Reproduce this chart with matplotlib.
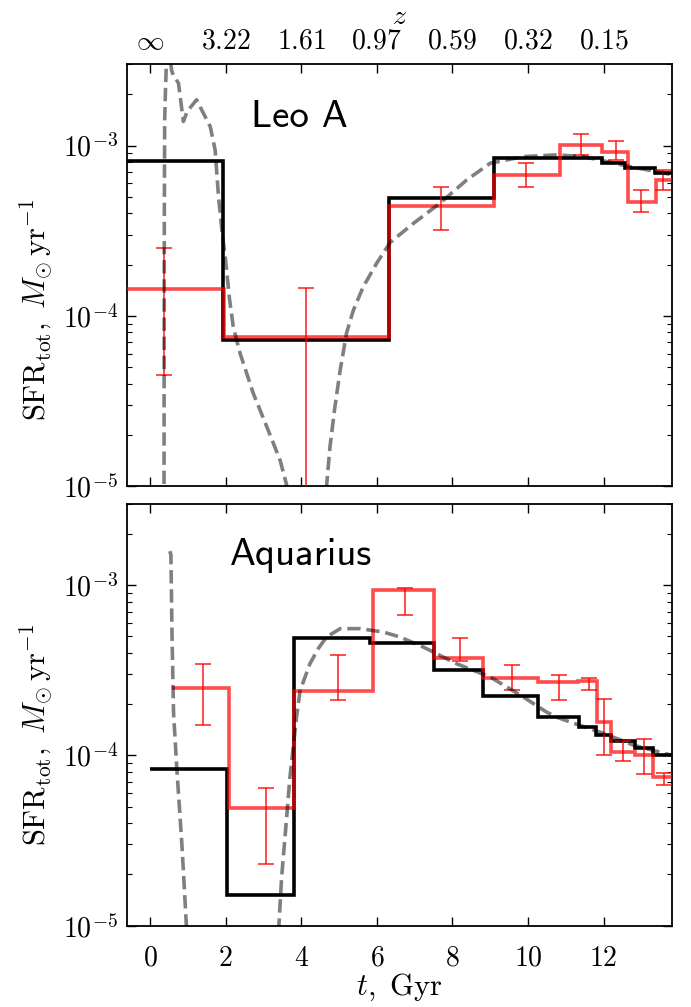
import numpy as np
import matplotlib
matplotlib.use('Agg')
import matplotlib.pyplot as plt
from matplotlib.ticker import FixedLocator, FuncFormatter, LogLocator, NullFormatter

plt.rcParams['mathtext.fontset'] = 'cm'
plt.rcParams['font.family'] = ['DejaVu Sans']

# ---------------- data ----------------
t_ticks = [0, 2, 4, 6, 8, 10, 12]
t_ticklabels = ['0', '2', '4', '6', '8', '10', '12']
z_ticklabels = [r'\infty', '3.22', '1.61', '0.97', '0.59', '0.32', '0.15']

# Leo A
leo_model_edges = [-1.2, 1.94, 6.33, 9.10, 11.97, 12.58, 13.36, 13.9]
leo_model_sfr = [8.13e-4, 7.19e-5, 4.91e-4, 8.47e-4, 7.94e-4, 7.36e-4, 6.88e-4]
leo_obs_edges = [-1.2, 1.96, 6.33, 9.10, 10.85, 11.97, 12.65, 13.40, 13.9]
leo_obs_sfr = [1.44e-4, 7.46e-5, 4.41e-4, 6.72e-4, 1.01e-3, 9.18e-4, 4.64e-4, 6.28e-4]
leo_err_t = [0.37, 4.13, 7.70, 9.96, 11.40, 12.32, 13.00, 13.58]
leo_err_hi = [2.49e-4, 1.45e-4, 5.71e-4, 7.87e-4, 1.17e-3, 1.07e-3, 5.49e-4, 7.20e-4]
leo_err_lo = [4.47e-5, 1e-7, 3.19e-4, 5.74e-4, 8.81e-4, 8.24e-4, 4.06e-4, 5.49e-4]
leo_curve_t = [0.365, 0.37, 0.375, 0.385, 0.41, 0.44, 0.48, 0.57, 0.62, 0.75, 0.88, 0.98,
               1.23, 1.32, 1.59, 1.72, 1.81, 1.90, 2.00, 2.10, 2.20, 2.38, 2.73, 3.09, 3.44,
               3.62, 3.80, 4.20, 4.62, 4.67, 4.76, 4.89, 5.03, 5.20, 5.38, 5.64, 6.00, 6.35,
               6.97, 7.67, 8.38, 9.00, 9.88, 10.76, 11.46, 12.08, 12.70, 13.40, 13.82]
leo_curve_log = [-6.0, -4.5, -3.5, -2.85, -2.65, -2.45, -2.40, -2.56, -2.59, -2.633, -2.859,
                 -2.80, -2.731, -2.771, -2.888, -3.025, -3.30, -3.50, -3.68, -3.90, -4.065,
                 -4.22, -4.456, -4.653, -4.849, -5.0, -5.12, -7.0, -5.10, -5.0, -4.77, -4.535,
                 -4.32, -4.10, -3.967, -3.83, -3.69, -3.57, -3.457, -3.339, -3.202, -3.104,
                 -3.065, -3.055, -3.065, -3.094, -3.124, -3.153, -3.172]

# Aquarius
aqr_model_edges = [0.0, 2.03, 3.82, 5.82, 7.50, 8.80, 10.27, 11.36, 11.80, 12.21, 12.83, 13.32, 13.9]
aqr_model_sfr = [8.28e-5, 1.51e-5, 4.90e-4, 4.58e-4, 3.16e-4, 2.25e-4, 1.68e-4, 1.46e-4,
                 1.32e-4, 1.21e-4, 1.11e-4, 1.01e-4]
aqr_obs_edges = [0.59, 2.09, 3.82, 5.89, 7.50, 8.82, 10.27, 11.33, 11.82, 12.21, 12.83, 13.32, 13.9]
aqr_obs_sfr = [2.50e-4, 4.90e-5, 2.39e-4, 9.35e-4, 3.76e-4, 2.85e-4, 2.70e-4, 2.72e-4,
               1.57e-4, 1.05e-4, 1.00e-4, 7.45e-5]
aqr_err_t = [1.41, 3.06, 4.96, 6.75, 8.20, 9.57, 10.83, 11.62, 12.01, 12.52, 13.07, 13.60]
aqr_err_hi = [3.46e-4, 6.45e-5, 3.88e-4, 9.60e-4, 4.90e-4, 3.38e-4, 2.98e-4, 2.85e-4,
              2.15e-4, 1.22e-4, 1.25e-4, 7.87e-5]
aqr_err_lo = [1.52e-4, 2.31e-5, 2.11e-4, 6.67e-4, 3.59e-4, 2.44e-4, 2.13e-4, 2.41e-4,
              1.00e-4, 9.25e-5, 7.80e-5, 6.75e-5]
aqr_curve_t = [0.52, 0.55, 0.58, 0.62, 0.71, 0.84, 0.96, 1.05, 2.20, 3.30, 3.41, 3.48, 3.57,
               3.70, 3.88, 3.97, 4.23, 4.45, 4.67, 5.03, 5.56, 6.17, 6.61, 7.23, 8.11, 9.00,
               9.88, 10.49, 10.76, 11.20, 12.00, 12.80, 13.82]
aqr_curve_log = [-2.80, -2.82, -3.30, -3.75, -4.09, -4.52, -5.0, -5.3, -7.0, -5.4, -4.99,
                 -4.716, -4.48, -4.128, -3.765, -3.618, -3.461, -3.372, -3.304, -3.255, -3.255,
                 -3.275, -3.304, -3.363, -3.461, -3.539, -3.657, -3.745, -3.775, -3.81, -3.87,
                 -3.94, -4.0]

# ---------------- figure ----------------
W, H = 691, 1007
fig = plt.figure(figsize=(W / 100, H / 100), dpi=100)


def px_axes(x0, y0, x1, y1):
    return fig.add_axes([x0 / W, 1 - y1 / H, (x1 - x0) / W, (y1 - y0) / H])


ax1 = px_axes(126.7, 64.3, 672.3, 486.0)
ax2 = px_axes(126.7, 504.0, 672.3, 925.7)


def style(ax):
    ax.set_yscale('log')
    ax.set_ylim(1e-5, 3e-3)
    ax.set_xlim(-0.62, 13.82)
    ax.set_xticks(t_ticks)
    ax.yaxis.set_major_locator(FixedLocator([1e-5, 1e-4, 1e-3]))
    ax.yaxis.set_minor_locator(LogLocator(base=10, subs=np.arange(2, 10), numticks=20))
    ax.yaxis.set_major_formatter(FuncFormatter(lambda v, p: r'$10^{%d}$' % round(np.log10(v))))
    ax.yaxis.set_minor_formatter(NullFormatter())
    ax.tick_params(which='both', direction='in', top=True, right=True)
    ax.tick_params(which='major', length=6.5, width=1.0, labelsize=20)
    ax.tick_params(which='minor', length=3.6, width=0.8)
    ax.tick_params(axis='y', pad=6)
    for s in ax.spines.values():
        s.set_linewidth(1.3)


def panel(ax, me, ms, oe, os_, et, ehi, elo, ct, cl):
    ax.stairs(ms, me, baseline=None, color='k', lw=2.6, zorder=2)
    ax.stairs(os_, oe, baseline=None, color='red', alpha=0.7, lw=2.6, zorder=3)
    oe = np.asarray(oe)
    os_ = np.asarray(os_)
    idx = np.clip(np.searchsorted(oe, et) - 1, 0, len(os_) - 1)
    yc = os_[idx]
    yerr = [yc - np.asarray(elo), np.asarray(ehi) - yc]
    ax.errorbar(et, yc, yerr=yerr, fmt='none', ecolor='red', elinewidth=1.4,
                capsize=6, capthick=1.4, alpha=0.7, zorder=3)
    ax.plot(ct, 10 ** np.asarray(cl), color='k', alpha=0.5, ls='--', lw=2.6, zorder=4)
    style(ax)


panel(ax1, leo_model_edges, leo_model_sfr, leo_obs_edges, leo_obs_sfr,
      leo_err_t, leo_err_hi, leo_err_lo, leo_curve_t, leo_curve_log)
panel(ax2, aqr_model_edges, aqr_model_sfr, aqr_obs_edges, aqr_obs_sfr,
      aqr_err_t, aqr_err_hi, aqr_err_lo, aqr_curve_t, aqr_curve_log)

# top axis: redshift labels
ax1.set_xticklabels(['$%s$' % s for s in z_ticklabels])
ax1.tick_params(axis='x', labelbottom=False, labeltop=True, pad=7)
ax1.xaxis.set_label_position('top')
ax1.set_xlabel(r'$z$', fontsize=20, labelpad=2)

ax2.set_xticklabels(['$%s$' % s for s in t_ticklabels])
ax2.tick_params(axis='x', pad=13)
ax2.set_xlabel(r'$t,\ \mathrm{Gyr}$', fontsize=22, labelpad=0)

ylab = r'$\mathrm{SFR_{tot}},\ M_{\odot}\,\mathrm{yr}^{-1}$'
ax1.set_ylabel(ylab, fontsize=22, va='center')
ax1.yaxis.set_label_coords(-0.1653, 0.417)
ax2.set_ylabel(ylab, fontsize=22, va='center')
ax2.yaxis.set_label_coords(-0.1653, 0.452)

ax1.text(0.227, 0.8506, 'Leo A', transform=ax1.transAxes, family='cmss10',
         fontsize=28, ha='left', va='baseline')
ax2.text(0.189, 0.8553, 'Aquarius', transform=ax2.transAxes, family='cmss10',
         fontsize=28, ha='left', va='baseline')

fig.savefig('out.png', dpi=100)
